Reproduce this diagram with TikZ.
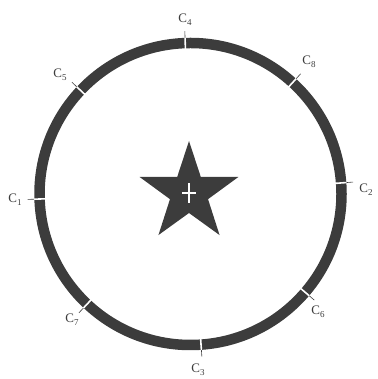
\documentclass[tikz,border=0pt]{standalone}
\usepackage{fontspec}
\setmainfont{Liberation Serif}
\usetikzlibrary{shapes.geometric,calc}
\definecolor{ink}{HTML}{3C3C3C}
\newcommand{\clab}[1]{C\raisebox{-0.45ex}{\fontsize{9}{10}\selectfont #1}}
\tikzset{
  ring/.style={draw=ink,line width=10.5pt},
  gap/.style={draw=white,line width=1.6pt},
  tick/.style={draw=ink,line width=0.6pt},
  lab/.style={font=\fontsize{13}{15}\selectfont,text=ink,inner sep=0pt},
}
\begin{document}
\begin{tikzpicture}[x=1pt,y=1pt]
\useasboundingbox (0,0) rectangle (377,379);
\coordinate (O) at (190.5,185);
\draw[ring] (O) circle (151);
\foreach \n/\a in {c4/92,c8/47.5,c5/136.7,c2/4.2,c1/181.9,c6/-40.6,c7/226.8,c3/274}{
  \coordinate (\n in) at ($(O)+(\a:145)$);
  \coordinate (\n out) at ($(O)+(\a:156.5)$);
  \coordinate (\n end) at ($(O)+(\a:163)$);
  \draw[gap] (\n in) -- (\n out);
  \draw[tick] (\n out) -- (\n end);
}
\node[lab] (l4) at (185,359) {\clab{4}};
\node[lab] (l8) at (309,317) {\clab{8}};
\node[lab] (l5) at (60,304) {\clab{5}};
\node[lab] (l2) at (366,189) {\clab{2}};
\node[lab] (l1) at (15,179) {\clab{1}};
\node[lab] (l6) at (318,67) {\clab{6}};
\node[lab] (l7) at (72,59) {\clab{7}};
\node[lab] (l3) at (198,9) {\clab{3}};
\node[star,star points=5,star point ratio=2.6,minimum size=104pt,inner sep=0pt,fill=ink] (st) at (189,186) {};
\coordinate (cx) at (189,186);
\draw[white,line width=2pt] ($(cx)+(-7,0)$) -- ($(cx)+(7,0)$);
\draw[white,line width=2pt] ($(cx)+(0,-10)$) -- ($(cx)+(0,10)$);
\end{tikzpicture}
\end{document}
